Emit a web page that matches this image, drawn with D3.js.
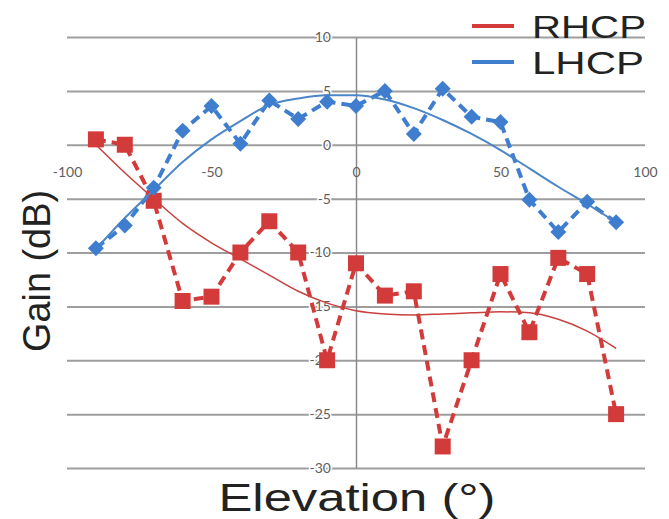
<!DOCTYPE html>
<html>
<head>
<meta charset="utf-8">
<script src="https://cdn.jsdelivr.net/npm/d3@7"></script>
<style>
  html, body { margin: 0; padding: 0; background: #fff; }
  svg { display: block; }
</style>
</head>
<body>
<svg id="chart" width="669" height="519"></svg>
<script>
// ---- data ----
const elevation = [-90, -80, -70, -60, -50, -40, -30, -20, -10, 0, 10, 20, 30, 40, 50, 60, 70, 80, 90];
const rhcp = [0.5, 0, -5.2, -14.5, -14.1, -10, -7.1, -10, -20, -11, -14, -13.6, -28, -20, -12, -17.4, -10.5, -12, -25];
const lhcp = [-9.6, -7.5, -4, 1.3, 3.6, 0.1, 4.1, 2.4, 4.0, 3.6, 5.0, 1.0, 5.2, 2.6, 2.1, -5.1, -8.1, -5.3, -7.2];
const rhcpTrend = [0, -2.6, -5, -7.3, -9.1, -10.6, -12.1, -13.6, -14.7, -15.4, -15.7, -15.8, -15.7, -15.6, -15.5, -15.6, -16.2, -17.3, -18.9];
const lhcpTrend = [-9.7, -6.8, -4.2, -1.6, 0.5, 2.2, 3.7, 4.3, 4.6, 4.6, 4.2, 3.4, 2.3, 1.0, -0.5, -2.2, -3.9, -5.5, -7.2];
const xTicks = [-100, -50, 0, 50, 100];
const yTicks = [10, 5, 0, -5, -10, -15, -20, -25, -30];
const seriesNames = ["RHCP", "LHCP"];

// ---- styles ----
const RED = "#d33b3b", BLUE = "#3f7ecf";
const RED_T = "#c8413f", BLUE_T = "#4a86c8";
const FONT = "Lato, 'Open Sans', sans-serif";
const TFONT = "'Liberation Sans', Arial, sans-serif";

const svg = d3.select("#chart");
const x = d3.scaleLinear().domain([-100, 100]).range([67, 645]);
const y = d3.scaleLinear().domain([-30, 10]).range([468, 37]);

// gridlines
svg.append("g")
  .attr("transform", `translate(${x(-100)},0)`)
  .call(d3.axisLeft(y).tickValues(yTicks).tickSize(-(x(100) - x(-100))).tickFormat(""))
  .call(g => g.select(".domain").remove())
  .call(g => g.selectAll("line").attr("stroke", "#9e9e9e").attr("stroke-width", 2));

// vertical axis line at x=0 with labels
const yAxis = svg.append("g")
  .attr("transform", `translate(${x(0)},0)`)
  .call(d3.axisLeft(y).tickValues(yTicks).tickSize(0).tickPadding(25).tickFormat(d => String(d)));
yAxis.select(".domain").attr("stroke", "#8a8a8a").attr("stroke-width", 1.5);
yAxis.selectAll("text").attr("font-family", FONT).attr("font-size", 14).attr("fill", "#606060")
  .attr("stroke", "#fff").attr("stroke-width", 3).attr("paint-order", "stroke");

// x axis labels along y=0
const xAxis = svg.append("g")
  .attr("transform", `translate(0,${y(0)})`)
  .call(d3.axisBottom(x).tickValues(xTicks).tickSize(0).tickPadding(22).tickFormat(d => String(d)));
xAxis.select(".domain").remove();
xAxis.selectAll("text").attr("font-family", FONT).attr("font-size", 14).attr("fill", "#606060");

const pts = (vals) => elevation.map((e, i) => [e, vals[i]]);
const line = d3.line().x(d => x(d[0])).y(d => y(d[1]));
const smooth = d3.line().x(d => x(d[0])).y(d => y(d[1])).curve(d3.curveMonotoneX);

// RHCP
svg.append("path").datum(pts(rhcp)).attr("d", line)
  .attr("fill", "none").attr("stroke", RED).attr("stroke-width", 4).attr("stroke-dasharray", "10,6");
svg.append("path").datum(pts(rhcpTrend)).attr("d", smooth)
  .attr("fill", "none").attr("stroke", RED_T).attr("stroke-width", 1.5);
svg.append("g").selectAll("rect").data(pts(rhcp)).join("rect")
  .attr("x", d => x(d[0]) - 8).attr("y", d => y(d[1]) - 8)
  .attr("width", 16).attr("height", 16).attr("fill", RED);

// LHCP
svg.append("path").datum(pts(lhcp)).attr("d", line)
  .attr("fill", "none").attr("stroke", BLUE).attr("stroke-width", 4).attr("stroke-dasharray", "10,6");
svg.append("path").datum(pts(lhcpTrend)).attr("d", smooth)
  .attr("fill", "none").attr("stroke", BLUE_T).attr("stroke-width", 2);
svg.append("g").selectAll("path.d").data(pts(lhcp)).join("path")
  .attr("class", "d")
  .attr("transform", d => `translate(${x(d[0])},${y(d[1])})`)
  .attr("d", "M0,-8L8,0L0,8L-8,0Z").attr("fill", BLUE);

// axis titles
svg.append("text").attr("x", 357).attr("y", 511).attr("text-anchor", "middle")
  .attr("font-family", TFONT).attr("font-size", 38).attr("fill", "#222")
  .attr("textLength", 277).attr("lengthAdjust", "spacingAndGlyphs")
  .text("Elevation (°)");
svg.append("text").attr("transform", "translate(50,271) rotate(-90)").attr("text-anchor", "middle")
  .attr("font-family", TFONT).attr("font-size", 38).attr("fill", "#222")
  .attr("textLength", 162).attr("lengthAdjust", "spacingAndGlyphs")
  .text("Gain (dB)");

// legend
const legend = svg.append("g");
const legendLen = [114, 112];
[RED, BLUE].forEach((c, i) => {
  const ly = 26 + i * 36;
  legend.append("line").attr("x1", 472).attr("x2", 514).attr("y1", ly).attr("y2", ly)
    .attr("stroke", c).attr("stroke-width", 4);
  legend.append("text").attr("x", 532).attr("y", ly + 12)
    .attr("font-family", TFONT).attr("font-size", 32).attr("fill", "#222")
    .attr("textLength", legendLen[i]).attr("lengthAdjust", "spacingAndGlyphs")
    .text(seriesNames[i]);
});
</script>
</body>
</html>
